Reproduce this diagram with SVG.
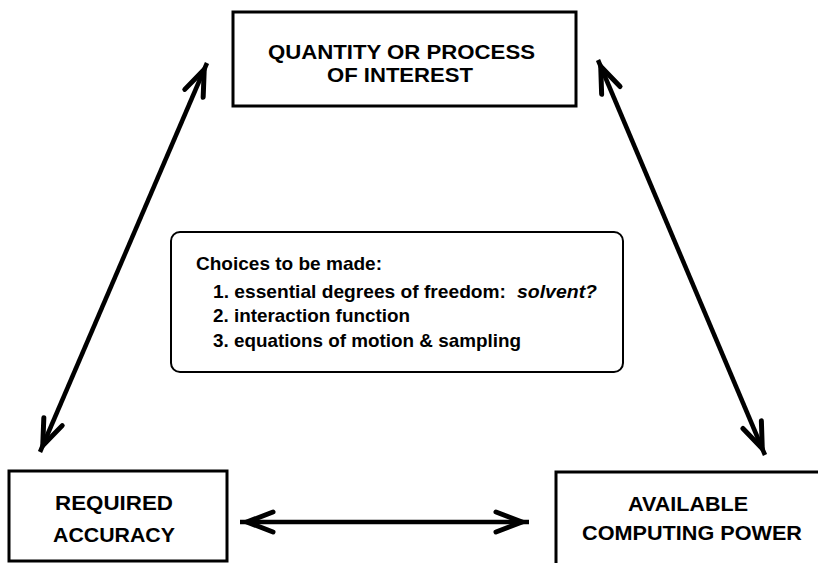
<svg xmlns="http://www.w3.org/2000/svg" width="818" height="563" viewBox="0 0 818 563">
  <style>
    .box { fill: #fff; stroke: #000; stroke-width: 3; }
    .rbox { fill: #fff; stroke: #000; stroke-width: 2; }
    .lbl { font-family: "Liberation Sans", Arial, sans-serif; font-weight: bold; font-size: 19.5px; fill: #000; text-anchor: middle; }
    .txt { font-family: "Liberation Sans", Arial, sans-serif; font-weight: bold; font-size: 19px; fill: #000; }
    .it { font-style: italic; }
    .conn { stroke: #000; stroke-width: 4.5; fill: none; marker-start: url(#ah); marker-end: url(#ah); }
  </style>
  <defs>
    <marker id="ah" markerUnits="userSpaceOnUse" viewBox="-40 -16 48 32" markerWidth="48" markerHeight="32" refX="0" refY="0" orient="auto-start-reverse">
      <path d="M-33,-10 L-7,0 L-33,10" fill="none" stroke="#000" stroke-width="5" stroke-linecap="round" stroke-linejoin="miter"/>
    </marker>
  </defs>
  <rect width="818" height="563" fill="#fff"/>

  <g id="connectors">
    <line class="conn" x1="207" y1="63" x2="40" y2="452"/>
    <line class="conn" x1="598" y1="60" x2="765" y2="455"/>
    <line class="conn" x1="240" y1="522" x2="529" y2="522"/>
  </g>

  <g id="quantity">
    <rect class="box" x="233" y="12" width="343" height="94"/>
    <text class="lbl" x="401.5" y="59" textLength="267" lengthAdjust="spacingAndGlyphs">QUANTITY OR PROCESS</text>
    <text class="lbl" x="400" y="82" textLength="146" lengthAdjust="spacingAndGlyphs">OF INTEREST</text>
  </g>

  <g id="choices">
    <rect class="rbox" x="171" y="232" width="452" height="140" rx="9"/>
    <text class="txt" x="196" y="270" textLength="186" lengthAdjust="spacingAndGlyphs">Choices to be made:</text>
    <text class="txt" x="213" y="298" textLength="293" lengthAdjust="spacingAndGlyphs">1. essential degrees of freedom:</text>
    <text class="txt it" x="517" y="298" textLength="80" lengthAdjust="spacingAndGlyphs">solvent?</text>
    <text class="txt" x="213" y="322" textLength="197" lengthAdjust="spacingAndGlyphs">2. interaction function</text>
    <text class="txt" x="213" y="347" textLength="308" lengthAdjust="spacingAndGlyphs">3. equations of motion &amp; sampling</text>
  </g>

  <g id="accuracy">
    <rect class="box" x="9" y="471" width="218" height="90"/>
    <text class="lbl" x="114" y="510" textLength="118" lengthAdjust="spacingAndGlyphs">REQUIRED</text>
    <text class="lbl" x="114" y="542" textLength="122" lengthAdjust="spacingAndGlyphs">ACCURACY</text>
  </g>

  <g id="computing">
    <rect class="box" x="556" y="472" width="270" height="100"/>
    <text class="lbl" x="688" y="511" textLength="120" lengthAdjust="spacingAndGlyphs">AVAILABLE</text>
    <text class="lbl" x="692" y="540" textLength="220" lengthAdjust="spacingAndGlyphs">COMPUTING POWER</text>
  </g>
</svg>
